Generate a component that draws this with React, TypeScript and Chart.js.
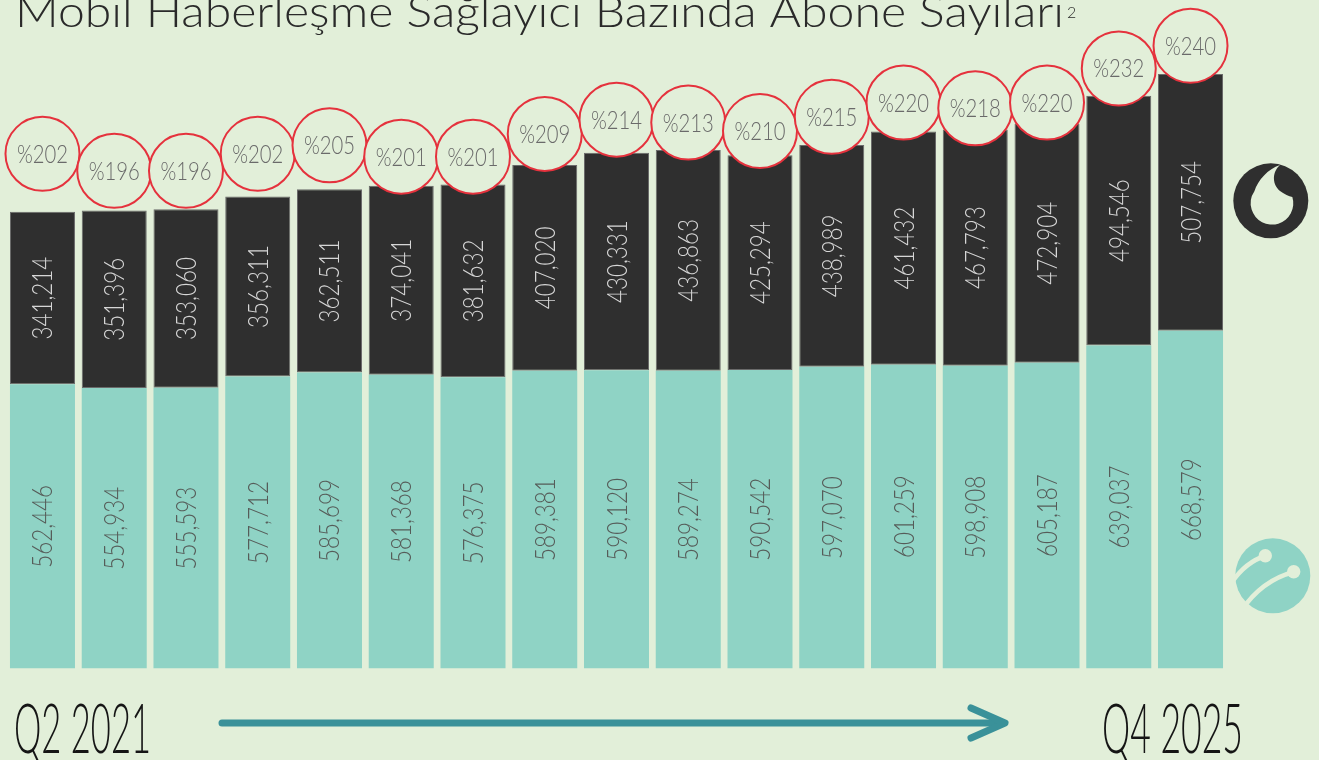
import { useEffect, useRef } from 'react';
import { Chart, registerables } from 'chart.js';

Chart.register(...registerables);

// ---------- data ----------
const periods = ['P01', 'P02', 'P03', 'P04', 'P05', 'P06', 'P07', 'P08', 'P09', 'P10', 'P11', 'P12', 'P13', 'P14', 'P15', 'P16', 'P17'];
const turkcell = [562446, 554934, 555593, 577712, 585699, 581368, 576375, 589381, 590120, 589274, 590542, 597070, 601259, 598908, 605187, 639037, 668579];
const vodafone = [341214, 351396, 353060, 356311, 362511, 374041, 381632, 407020, 430331, 436863, 425294, 438989, 461432, 467793, 472904, 494546, 507754];
const ratios = [202, 196, 196, 202, 205, 201, 201, 209, 214, 213, 210, 215, 220, 218, 220, 232, 240];

const titleText = 'Mobil Haberleşme Sağlayıcı Bazında Abone Sayıları';
const titleSup = '2';
const startLabel = 'Q2 2021';
const endLabel = 'Q4 2025';

// ---------- style ----------
const BG = '#e2efd9';
const TEAL = '#8fd3c5';
const DARK = '#2f2f2f';
const RED = '#e5323d';
const ARROW = '#3a9199';
const FONT = 'Lato, "Open Sans", sans-serif';

function fmt(v: number) {
  return v.toLocaleString('en-US');
}

const decorPlugin = {
  id: 'decor',
  beforeDraw(chart: any) {
    const ctx = chart.ctx as CanvasRenderingContext2D;
    ctx.save();
    ctx.fillStyle = BG;
    ctx.fillRect(0, 0, chart.width, chart.height);
    ctx.restore();
  },
  afterDatasetsDraw(chart: any) {
    const ctx = chart.ctx as CanvasRenderingContext2D;

    // bar value labels (rotated)
    const drawBarLabels = (dsIndex: number, values: number[], color: string) => {
      const meta = chart.getDatasetMeta(dsIndex);
      meta.data.forEach((bar: any, i: number) => {
        const cx = bar.x;
        const cy = (bar.y + bar.base) / 2;
        ctx.save();
        ctx.translate(cx, cy);
        ctx.rotate(-Math.PI / 2);
        ctx.scale(0.8, 1);
        ctx.font = `300 28px ${FONT}`;
        ctx.fillStyle = color;
        ctx.textAlign = 'center';
        ctx.textBaseline = 'alphabetic';
        ctx.fillText(fmt(values[i]), 0, 10);
        ctx.restore();
      });
    };
    drawBarLabels(0, turkcell, '#565c59');
    drawBarLabels(1, vodafone, '#d6d6d6');

    // ratio labels inside circles
    const pm = chart.getDatasetMeta(2);
    pm.data.forEach((pt: any, i: number) => {
      ctx.save();
      ctx.translate(pt.x, pt.y);
      ctx.scale(0.78, 1);
      ctx.font = `300 26px ${FONT}`;
      ctx.fillStyle = '#6a6a6a';
      ctx.textAlign = 'center';
      ctx.textBaseline = 'alphabetic';
      ctx.fillText('%' + ratios[i], 0, 9);
      ctx.restore();
    });
  },
  afterDraw(chart: any) {
    const ctx = chart.ctx as CanvasRenderingContext2D;

    // title
    ctx.save();
    ctx.font = `300 44px ${FONT}`;
    ctx.fillStyle = '#2a2a2a';
    ctx.textBaseline = 'alphabetic';
    const tw = ctx.measureText(titleText).width;
    const sx = 1049 / tw;
    ctx.translate(15, 27);
    ctx.scale(sx, 1);
    ctx.fillText(titleText, 0, 0);
    ctx.restore();
    ctx.save();
    ctx.font = `300 16px ${FONT}`;
    ctx.fillStyle = '#2a2a2a';
    ctx.fillText(titleSup, 1067, 18);
    ctx.restore();

    // bottom labels
    const drawCond = (text: string, x: number, width: number) => {
      ctx.save();
      ctx.font = `300 69px ${FONT}`;
      ctx.fillStyle = '#151515';
      ctx.textBaseline = 'alphabetic';
      const w = ctx.measureText(text).width;
      ctx.translate(x, 753);
      ctx.scale(width / w, 1);
      ctx.fillText(text, 0, 0);
      ctx.restore();
    };
    drawCond(startLabel, 14, 137);
    drawCond(endLabel, 1102, 141);

    // arrow
    ctx.save();
    ctx.strokeStyle = ARROW;
    ctx.lineWidth = 7;
    ctx.lineCap = 'round';
    ctx.lineJoin = 'round';
    ctx.beginPath();
    ctx.moveTo(222, 723);
    ctx.lineTo(1003, 723);
    ctx.stroke();
    ctx.beginPath();
    ctx.moveTo(971, 708);
    ctx.lineTo(1005, 723);
    ctx.lineTo(971, 738);
    ctx.stroke();
    ctx.restore();

    // Vodafone-style logo
    ctx.save();
    ctx.fillStyle = DARK;
    ctx.beginPath();
    ctx.arc(1270.8, 200.8, 37.5, 0, Math.PI * 2);
    ctx.fill();
    ctx.fillStyle = BG;
    ctx.beginPath();
    ctx.moveTo(1280, 191);
    ctx.quadraticCurveTo(1287, 196, 1292.3, 197);
    ctx.arc(1272, 203.3, 21.3, -0.3, 3.74, false);
    ctx.bezierCurveTo(1258, 180, 1268, 169, 1280, 165);
    ctx.bezierCurveTo(1273, 171, 1271, 183, 1280, 191);
    ctx.closePath();
    ctx.fill();
    ctx.restore();

    // Turkcell-style logo
    ctx.save();
    ctx.fillStyle = TEAL;
    ctx.beginPath();
    ctx.arc(1272.8, 575.8, 37.5, 0, Math.PI * 2);
    ctx.fill();
    ctx.strokeStyle = BG;
    ctx.fillStyle = BG;
    ctx.lineWidth = 4.5;
    ctx.beginPath();
    ctx.moveTo(1232, 582);
    ctx.quadraticCurveTo(1246, 562, 1265, 556);
    ctx.stroke();
    ctx.beginPath();
    ctx.moveTo(1241, 611);
    ctx.quadraticCurveTo(1262, 580, 1294, 572);
    ctx.stroke();
    ctx.beginPath();
    ctx.arc(1265.3, 555.7, 6.7, 0, Math.PI * 2);
    ctx.fill();
    ctx.beginPath();
    ctx.arc(1293.7, 571.7, 6.7, 0, Math.PI * 2);
    ctx.fill();
    ctx.restore();
  },
};

export default function App() {
  const ref = useRef<HTMLCanvasElement>(null);

  useEffect(() => {
    document.body.style.margin = '0';
    document.body.style.background = BG;
    const chart = new Chart(ref.current as HTMLCanvasElement, {
      type: 'bar',
      data: {
        labels: periods,
        datasets: [
          {
            label: 'Turkcell',
            data: turkcell,
            backgroundColor: TEAL,
            borderWidth: 0,
            stack: 's',
            yAxisID: 'y',
            order: 1,
            categoryPercentage: 1,
            barPercentage: 0.906,
          } as any,
          {
            label: 'Vodafone',
            data: vodafone,
            backgroundColor: DARK,
            borderColor: '#6a6a6a',
            borderWidth: 1,
            borderSkipped: false,
            stack: 's',
            yAxisID: 'y',
            order: 2,
            categoryPercentage: 1,
            barPercentage: 0.906,
          } as any,
          {
            type: 'line',
            label: 'Oran',
            data: ratios,
            yAxisID: 'y2',
            showLine: false,
            pointRadius: 37,
            pointHoverRadius: 37,
            pointBackgroundColor: BG,
            pointBorderColor: RED,
            pointBorderWidth: 2,
            clip: false,
            order: 0,
          } as any,
        ],
      },
      options: {
        animation: false,
        responsive: false,
        maintainAspectRatio: false,
        events: [],
        layout: { autoPadding: false, padding: { left: 6.6, right: 92.6, top: 11.6, bottom: 91.5 } },
        plugins: { legend: { display: false }, tooltip: { enabled: false } },
        scales: {
          x: { display: false, stacked: true, grid: { display: false } },
          y: { display: false, stacked: true, min: 0, max: 1300000 },
          y2: { display: false, min: 21, max: 252 },
        },
      },
      plugins: [decorPlugin],
    });
    return () => chart.destroy();
  }, []);

  return (
    <canvas
      ref={ref}
      width={1319}
      height={760}
      style={{ position: 'absolute', left: 0, top: 0, display: 'block' }}
    />
  );
}
